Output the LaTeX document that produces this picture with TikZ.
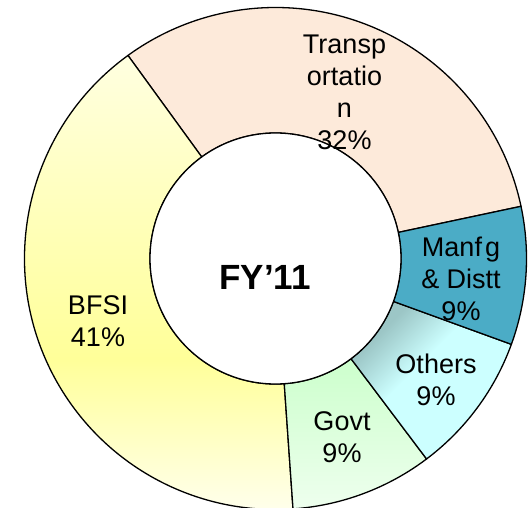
\documentclass[tikz,border=0pt]{standalone}
\usepackage{fontspec}
\setmainfont{Liberation Sans}

\definecolor{transpfill}{HTML}{FDEADA}
\definecolor{manfgfill}{HTML}{4BACC6}
\definecolor{othdark}{HTML}{9CC6C6}
\definecolor{othlight}{HTML}{CCFFFF}
\definecolor{govtfill}{HTML}{CCFFCC}
\definecolor{govtlight}{HTML}{EEFFEE}
\definecolor{bfsitop}{HTML}{FFFFE0}
\definecolor{bfsimid}{HTML}{FFFF99}
\definecolor{bfsibot}{HTML}{FFFFEE}

\pgfdeclareverticalshading{bfsishade}{100bp}{color(0bp)=(bfsibot); color(25bp)=(bfsibot); color(42bp)=(bfsimid); color(75bp)=(bfsitop); color(100bp)=(bfsitop)}
\pgfdeclareverticalshading{othshade}{100bp}{color(0bp)=(othlight); color(56bp)=(othlight); color(72bp)=(othdark); color(100bp)=(othdark)}

\tikzset{
  slice/.style={draw=black, line width=1.3pt, line join=round},
  lbl/.style={align=center, anchor=base, inner sep=0pt, font=\fontsize{27}{32}\selectfont}
}

\begin{document}
\begin{tikzpicture}[x=1pt,y=1pt]
\useasboundingbox (0,0) rectangle (530,507);
\coordinate (c) at (275.5,248.5);

\begin{scope}[shift={(c)}]
% ring slices
\filldraw[slice,fill=transpfill] (12:251) arc[start angle=12,end angle=126,radius=251] -- (126:125.5) arc[start angle=126,end angle=12,radius=125.5] -- cycle;
\shadedraw[slice,shading=bfsishade] (126:251) arc[start angle=126,end angle=274,radius=251] -- (274:125.5) arc[start angle=274,end angle=126,radius=125.5] -- cycle;
\shadedraw[slice,top color=govtfill,middle color=govtfill,bottom color=govtlight] (274:251) arc[start angle=274,end angle=307,radius=251] -- (307:125.5) arc[start angle=307,end angle=274,radius=125.5] -- cycle;
\shadedraw[slice,shading=othshade,shading angle=45] (307:251) arc[start angle=307,end angle=340,radius=251] -- (340:125.5) arc[start angle=340,end angle=307,radius=125.5] -- cycle;
\filldraw[slice,fill=manfgfill] (340:251) arc[start angle=340,end angle=372,radius=251] -- (372:125.5) arc[start angle=372,end angle=340,radius=125.5] -- cycle;
\end{scope}

\draw[slice,fill=white] (c) circle[radius=125.5];

% labels (anchored on the baseline of the last line)
\node[lbl] (transp) at (344.5,357) {Transp\\ortatio\\n\\32\%};
\node[lbl] (manfg) at (461,187) {Manf\kern3pt g\\\& Distt\\9\%};
\node[lbl] (others) at (436,102) {Others\\9\%};
\node[lbl] (govt) at (342,45) {Govt\\9\%};
\node[lbl] (bfsi) at (98,161) {BFSI\\41\%};
\node[anchor=base,inner sep=0pt,font=\fontsize{35}{40}\selectfont\bfseries] (fy) at (265,218) {FY’11};
\end{tikzpicture}
\end{document}
